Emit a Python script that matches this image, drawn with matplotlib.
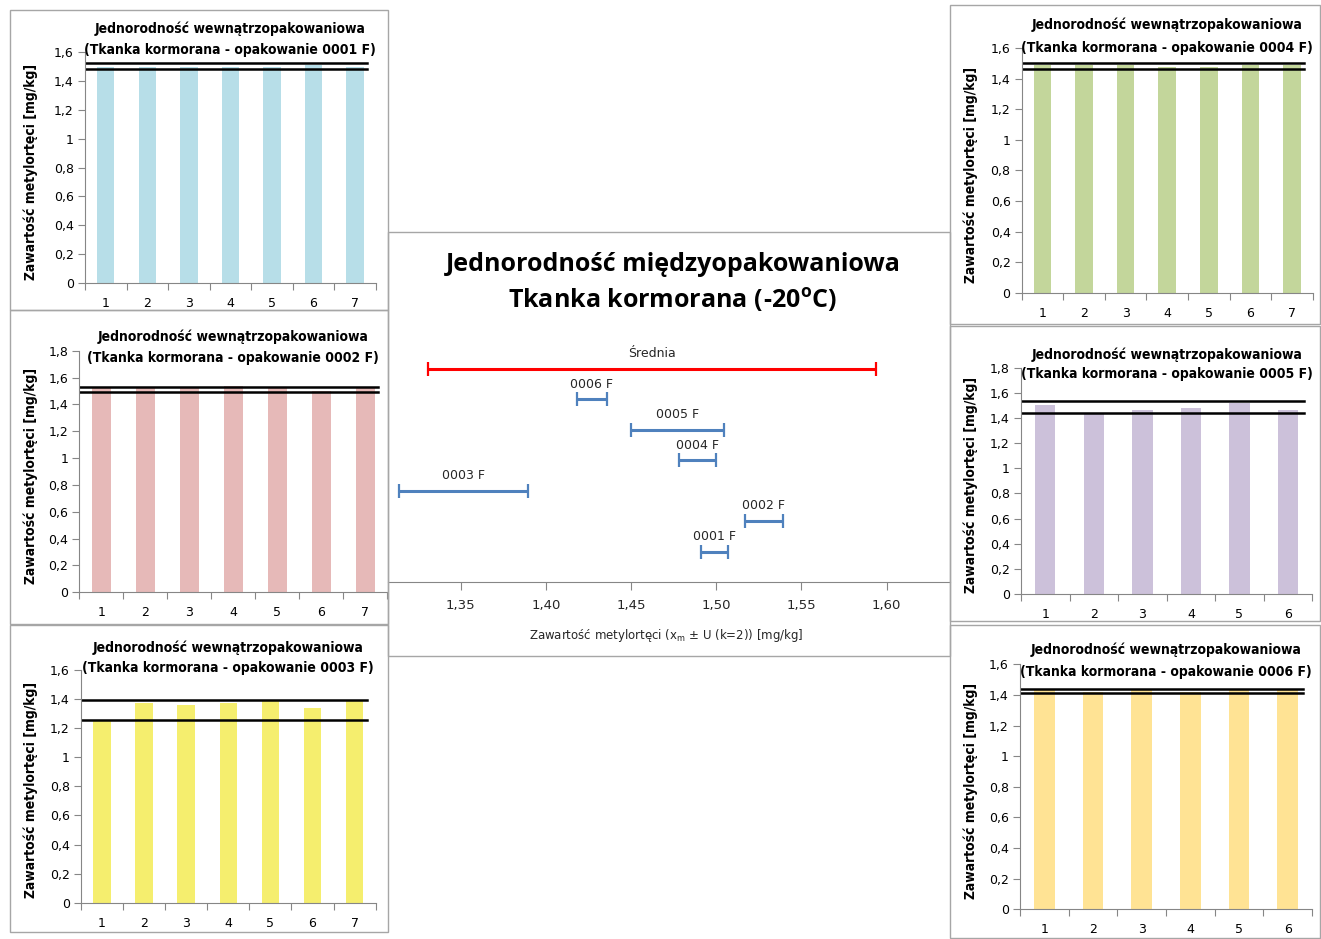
import numpy as np
import matplotlib
matplotlib.use('Agg')
import matplotlib.pyplot as plt
from matplotlib.patches import Rectangle

# --- data ---
cats7 = [1, 2, 3, 4, 5, 6, 7]
cats6 = [1, 2, 3, 4, 5, 6]

vals_0001 = [1.50, 1.50, 1.50, 1.50, 1.50, 1.51, 1.50]
vals_0002 = [1.53, 1.53, 1.52, 1.54, 1.53, 1.50, 1.53]
vals_0003 = [1.25, 1.37, 1.36, 1.37, 1.39, 1.34, 1.39]
vals_0004 = [1.49, 1.49, 1.49, 1.48, 1.48, 1.49, 1.49]
vals_0005 = [1.50, 1.44, 1.46, 1.48, 1.52, 1.46]
vals_0006 = [1.43, 1.42, 1.43, 1.42, 1.43, 1.43]

lims_0001 = [1.484, 1.523]
lims_0002 = [1.495, 1.532]
lims_0003 = [1.257, 1.394]
lims_0004 = [1.465, 1.502]
lims_0005 = [1.437, 1.535]
lims_0006 = [1.411, 1.439]

pack_labels = ['0001 F', '0002 F', '0003 F', '0004 F', '0005 F', '0006 F', 'Średnia']
pack_means = [1.4988, 1.5280, 1.3517, 1.4889, 1.4773, 1.4269, 1.4622]
pack_U = [0.0080, 0.0112, 0.0376, 0.0109, 0.0273, 0.0088, 0.1314]
center_ticks = [1.35, 1.40, 1.45, 1.50, 1.55, 1.60]

W, H = 1321, 939
fig = plt.figure(figsize=(W / 100, H / 100), dpi=100)
fig.patch.set_facecolor('white')

TITLE_KW = dict(family='DejaVu Sans', fontstretch='condensed',
                fontweight='bold', fontsize=10)


def fbox(x0, y0, x1, y1):
    return [x0 / W, 1 - y1 / H, (x1 - x0) / W, (y1 - y0) / H]


def ftext(x, y, s, **kw):
    fig.text(x / W, 1 - y / H, s, **kw)


def comma(v):
    return ('%g' % round(v, 2)).replace('.', ',')


# panel frames
frames = [(10, 10, 388, 310), (10, 310, 388, 624), (10, 625, 388, 932),
          (388, 232, 950, 656),
          (950, 5, 1320, 324), (950, 326, 1320, 621), (950, 625, 1320, 938)]
for x0, y0, x1, y1 in frames:
    fig.add_artist(Rectangle((x0 / W, 1 - y1 / H), (x1 - x0) / W, (y1 - y0) / H,
                             transform=fig.transFigure, fill=False,
                             ec='#A6A6A6', lw=1))


def panel(box, title_y, ylab_x, cats, vals, lims, color, ymax, name):
    ax = fig.add_axes(fbox(*box))
    ax.bar(cats, vals, width=0.42, color=color, zorder=1)
    for v in lims:
        ax.axhline(v, xmin=0, xmax=0.97, color='black', lw=1.8, zorder=2)
    n = len(cats)
    ax.set_xlim(0.5, n + 0.5)
    ax.set_ylim(0, ymax)
    yt = np.arange(0, ymax + 0.001, 0.2)
    ax.set_yticks(yt)
    ax.set_yticklabels([comma(v) for v in yt], fontsize=9)
    ax.set_xticks(np.arange(0.5, n + 1, 1.0))
    ax.set_xticklabels([])
    ax.set_xticks(cats, minor=True)
    ax.set_xticklabels([str(c) for c in cats], minor=True, fontsize=9)
    ax.tick_params(axis='x', which='major', length=5, color='#868686')
    ax.tick_params(axis='x', which='minor', length=0, pad=10)
    ax.tick_params(axis='y', length=5, color='#868686', pad=3)
    for s in ['top', 'right']:
        ax.spines[s].set_visible(False)
    for s in ['left', 'bottom']:
        ax.spines[s].set_color('#868686')
    cx = (box[0] + box[2]) / 2
    ftext(cx, title_y[0], 'Jednorodność wewnątrzopakowaniowa',
          ha='center', va='center', **TITLE_KW)
    ftext(cx, title_y[1], '(Tkanka kormorana - opakowanie %s)' % name,
          ha='center', va='center', **TITLE_KW)
    ftext(ylab_x, (box[1] + box[3]) / 2 + 4, 'Zawartość metylortęci [mg/kg]',
          rotation=90, ha='center', va='center', **TITLE_KW)
    return ax


panel((85, 52.3, 375.7, 282.7), (29, 50), 30.7, cats7, vals_0001, lims_0001,
      '#B7DEE8', 1.6, '0001 F')
panel((79.3, 350.7, 387.3, 592.3), (336.7, 358.3), 30.7, cats7, vals_0002,
      lims_0002, '#E6B9B8', 1.8, '0002 F')
panel((81, 670, 375.7, 902.7), (647.3, 668.3), 30.7, cats7, vals_0003,
      lims_0003, '#F5EE6E', 1.6, '0003 F')
panel((1021.7, 48.3, 1312.7, 292.7), (25, 48.3), 970.7, cats7, vals_0004,
      lims_0004, '#C3D69B', 1.6, '0004 F')
panel((1021, 367.7, 1312.3, 594), (354.3, 374.3), 970.7, cats6, vals_0005,
      lims_0005, '#CCC1DA', 1.8, '0005 F')
panel((1020, 664.3, 1312, 909.3), (650, 671.7), 970.7, cats6, vals_0006,
      lims_0006, '#FFE394', 1.6, '0006 F')

# center chart
axc = fig.add_axes(fbox(388, 338.6, 950, 582))
ypos = np.arange(1, len(pack_labels) + 1)
for i, (lab, m, u) in enumerate(zip(pack_labels, pack_means, pack_U)):
    col = '#FF0000' if lab == 'Średnia' else '#4F81BD'
    axc.errorbar([m], [ypos[i]], xerr=[u], fmt='none', ecolor=col,
                 elinewidth=2.2, capsize=5, capthick=1.6)
    axc.annotate(lab, (m, ypos[i]), xytext=(0, 11), textcoords='offset points',
                 ha='center', va='center', fontsize=9, color='#262626')
axc.set_xlim(1.3074, 1.6372)
axc.set_ylim(0, 8)
axc.set_yticks([])
axc.set_xticks(center_ticks)
axc.set_xticklabels([('%.2f' % v).replace('.', ',') for v in center_ticks],
                    fontsize=9.5, color='#262626')
axc.tick_params(axis='x', length=6, color='#868686', pad=6)
for s in ['top', 'right', 'left']:
    axc.spines[s].set_visible(False)
axc.spines['bottom'].set_color('#868686')

ftext(673, 265, 'Jednorodność międzyopakowaniowa',
      family=['Open Sans', 'DejaVu Sans'], fontweight='bold', fontsize=18,
      ha='center', va='center')
ftext(673, 300, 'Tkanka kormorana (-20$^{\\mathregular{o}}$C)',
      family=['Open Sans', 'DejaVu Sans'], fontweight='bold', fontsize=18,
      ha='center', va='center')
ftext(666, 635, 'Zawartość metylortęci (x$_{\\mathregular{m}}$ ± U (k=2)) [mg/kg]',
      fontsize=8.5, ha='center', va='center', color='#262626')

fig.savefig('out.png', dpi=100, facecolor='white')
